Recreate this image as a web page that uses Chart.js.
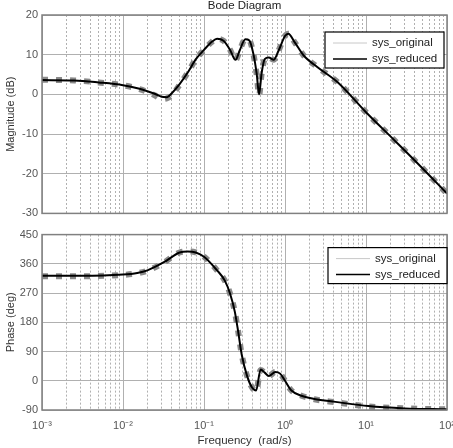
<!DOCTYPE html>
<html>
<head>
<meta charset="utf-8">
<script src="https://cdn.jsdelivr.net/npm/chart.js@4.4.1/dist/chart.umd.min.js"></script>
<style>
  body { margin: 0; background: #fff; }
  #wrap { position: relative; width: 453px; height: 448px; }
  .box { position: absolute; left: 0; width: 453px; height: 224px; }
</style>
</head>
<body>
<div id="wrap">
  <div class="box" style="top:0"><canvas id="magChart"></canvas></div>
  <div class="box" style="top:224px"><canvas id="phaseChart"></canvas></div>
</div>
<script>
// values (frequency in rad/s)
const seriesNames = ['sys_original', 'sys_reduced'];

const magFreq = [0.001, 0.0025, 0.005, 0.01, 0.016, 0.02, 0.025, 0.03, 0.035, 0.04,
  0.05, 0.063, 0.079, 0.1, 0.126, 0.145, 0.174, 0.21, 0.245, 0.275,
  0.324, 0.363, 0.407, 0.447, 0.479, 0.513, 0.562, 0.631, 0.724, 0.832,
  1.0, 1.1, 1.32, 1.7, 2.5, 4.5, 10, 22, 48, 100];
const magReduced = [3.6, 3.5, 3.0, 2.3, 1.4, 0.8, 0.1, -0.6, -0.7, 0.3,
  2.6, 5.5, 8.8, 11.2, 13.3, 14.0, 13.5, 11.2, 8.7, 11.0,
  13.9, 13.6, 10.2, 5.2, 0.0, 5.2, 8.9, 9.3, 8.7, 11.0,
  14.7, 15.3, 13.1, 9.8, 6.9, 3.0, -4.5, -11.4, -18.3, -25.0];
const magOriginal = [3.7, 3.5, 3.0, 2.3, 1.3, 0.6, -0.3, -1.2, -1.0, -0.2,
  2.4, 5.5, 8.8, 11.2, 13.3, 14.0, 13.5, 11.2, 8.6, 11.0,
  13.9, 13.6, 10.2, 5.0, -0.2, 5.0, 8.9, 9.3, 8.7, 11.0,
  14.7, 15.3, 13.1, 9.8, 6.9, 3.0, -4.5, -11.4, -18.3, -25.0];

const phaseFreq = [0.001, 0.003, 0.01, 0.015, 0.02, 0.032, 0.05, 0.063, 0.079, 0.1,
  0.145, 0.18, 0.21, 0.24, 0.264, 0.292, 0.34, 0.39, 0.44, 0.5,
  0.562, 0.631, 0.76, 0.87, 1.0, 1.2, 1.6, 2.3, 4.2, 10.7, 30, 100];
const phaseReduced = [323, 323, 327, 332, 340, 365, 395, 398, 395, 382,
  340, 309, 268, 213, 152, 81, 15, -20, -30, 35,
  25, 15, 27, 22, 0, -30, -46, -56, -65, -78, -85, -88];
const phaseOriginal = [322, 322, 326, 331, 339, 364, 395, 398, 395, 382,
  340, 309, 268, 213, 152, 81, 15, -20, -32, 33,
  25, 15, 27, 22, 0, -30, -46, -57, -66, -79, -85, -88];

const magTicks = [-30, -20, -10, 0, 10, 20];
const phaseTicks = [-90, 0, 90, 180, 270, 360, 450];
const decades = [-3, -2, -1, 0, 1, 2];

Chart.defaults.font.family = "'Liberation Sans', Arial, sans-serif";
Chart.defaults.color = '#555';

const sup = {'-': '\u207B', '0': '\u2070', '1': '\u00B9', '2': '\u00B2', '3': '\u00B3'};
const isDecade = v => Math.abs(Math.log10(v) - Math.round(Math.log10(v))) < 1e-6;

// frame round the plot and the boxed legend (MATLAB style)
const frameAndLegend = {
  id: 'frameAndLegend',
  afterDraw(chart, args, opts) {
    const ctx = chart.ctx, a = chart.chartArea;
    ctx.save();
    ctx.strokeStyle = '#808080';
    ctx.lineWidth = 1.5;
    ctx.strokeRect(a.left, a.top, a.right - a.left, a.bottom - a.top);

    const w = 119, h = 36;
    const x = a.right - opts.right - w, y = a.top + opts.top;
    ctx.fillStyle = '#fff';
    ctx.fillRect(x, y, w, h);
    ctx.strokeStyle = '#000';
    ctx.lineWidth = 1.2;
    ctx.strokeRect(x, y, w, h);

    const rows = [
      {name: seriesNames[0], color: '#c8c8c8', width: 1},
      {name: seriesNames[1], color: '#000', width: 1.5}
    ];
    ctx.font = "11.5px 'Liberation Sans', Arial, sans-serif";
    ctx.textBaseline = 'middle';
    rows.forEach((r, i) => {
      const ly = y + 11 + i * 16;
      ctx.strokeStyle = r.color;
      ctx.lineWidth = r.width;
      ctx.beginPath();
      ctx.moveTo(x + 8, ly);
      ctx.lineTo(x + 42, ly);
      ctx.stroke();
      ctx.fillStyle = '#222';
      ctx.fillText(r.name, x + 47, ly);
    });
    ctx.restore();
  }
};

function logX(showLabels) {
  return {
    type: 'logarithmic',
    min: 0.001,
    max: 100,
    afterBuildTicks: scale => {
      const t = [];
      decades.forEach(e => {
        if (e === 2) { t.push({value: 100}); return; }
        for (let m = 1; m <= 9; m++) t.push({value: m * Math.pow(10, e)});
      });
      scale.ticks = t;
    },
    afterFit: scale => {
      scale.height = showLabels ? 38 : 0;
      scale.paddingLeft = 0;
      scale.paddingRight = 0;
    },
    ticks: {
      display: showLabels,
      autoSkip: false,
      maxRotation: 0,
      padding: 9,
      color: '#555',
      font: {size: 11},
      callback: v => {
        if (!isDecade(v)) return '';
        const e = String(Math.round(Math.log10(v)));
        return '10' + e.split('').map(c => sup[c]).join('');
      }
    },
    title: {
      display: showLabels,
      text: 'Frequency  (rad/s)',
      color: '#333',
      font: {size: 11.5},
      padding: {top: 0, bottom: 0}
    },
    grid: {
      drawTicks: false,
      color: '#b0b0b0',
      lineWidth: 1
    },
    border: {
      display: false,
      dash: ctx => (ctx.tick && isDecade(ctx.tick.value)) ? [] : [2, 2]
    }
  };
}

function yAxis(min, max, ticks, label) {
  return {
    min: min,
    max: max,
    afterBuildTicks: scale => { scale.ticks = ticks.map(v => ({value: v})); },
    afterFit: scale => { scale.width = 42; },
    ticks: {padding: 4, color: '#555', font: {size: 11}},
    title: {display: true, text: label, color: '#333', font: {size: 11}},
    grid: {drawTicks: false, color: '#b0b0b0'},
    border: {display: false}
  };
}

function lineSets(freq, reduced, original) {
  return [
    {
      label: seriesNames[1],
      data: freq.map((f, i) => ({x: f, y: reduced[i]})),
      borderColor: '#000',
      borderWidth: 2,
      pointRadius: 0,
      cubicInterpolationMode: 'monotone',
      order: 0
    },
    {
      label: seriesNames[0],
      data: freq.map((f, i) => ({x: f, y: original[i]})),
      borderColor: '#8a8a8a',
      borderWidth: 6,
      borderDash: [6, 8],
      pointRadius: 0,
      cubicInterpolationMode: 'monotone',
      order: 1
    }
  ];
}

new Chart(document.getElementById('magChart'), {
  type: 'line',
  data: {datasets: lineSets(magFreq, magReduced, magOriginal)},
  options: {
    responsive: true,
    maintainAspectRatio: false,
    animation: false,
    layout: {padding: {left: 0, right: 6, top: 0, bottom: 4}},
    plugins: {
      legend: {display: false},
      tooltip: {enabled: false},
      title: {
        display: true,
        fullSize: false,
        text: 'Bode Diagram',
        color: '#222',
        font: {size: 11.5, weight: 'normal', lineHeight: 1},
        padding: {top: 0, bottom: 3.5}
      },
      frameAndLegend: {right: 3, top: 17}
    },
    scales: {
      x: logX(false),
      y: yAxis(-30, 20, magTicks, 'Magnitude (dB)')
    }
  },
  plugins: [frameAndLegend]
});

new Chart(document.getElementById('phaseChart'), {
  type: 'line',
  data: {datasets: lineSets(phaseFreq, phaseReduced, phaseOriginal)},
  options: {
    responsive: true,
    maintainAspectRatio: false,
    animation: false,
    layout: {padding: {left: 0, right: 6, top: 7, bottom: 0}},
    plugins: {
      legend: {display: false},
      tooltip: {enabled: false},
      frameAndLegend: {right: 0, top: 13}
    },
    scales: {
      x: logX(true),
      y: yAxis(-90, 450, phaseTicks, 'Phase (deg)')
    }
  },
  plugins: [frameAndLegend]
});
</script>
</body>
</html>
